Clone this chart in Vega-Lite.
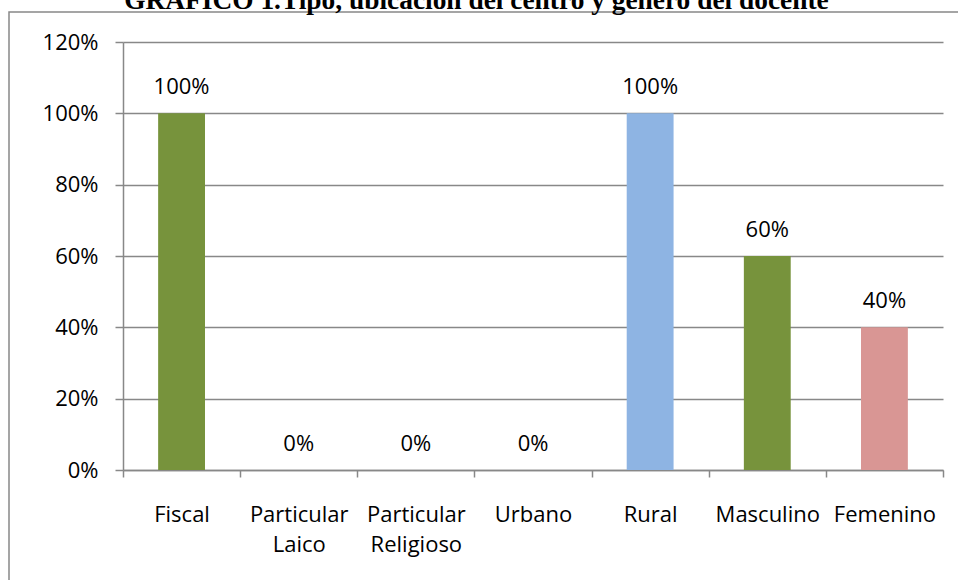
{
  "$schema": "https://vega.github.io/schema/vega-lite/v6.json",
  "autosize": "none",
  "padding": {"left": 9, "top": 12, "right": -13, "bottom": -13},
  "width": 962,
  "height": 581,
  "background": "white",
  "config": {
    "view": {"stroke": "#888888", "strokeWidth": 1.5},
    "font": "Open Sans"
  },
  "title": {
    "text": "GRÁFICO 1.Tipo, ubicación del centro y género del docente",
    "font": "Liberation Serif",
    "fontWeight": "bold",
    "fontSize": 27.4,
    "color": "black",
    "anchor": "middle",
    "frame": "group",
    "baseline": "alphabetic",
    "offset": 0,
    "dy": 24.5,
    "dx": -13.5
  },
  "data": {
    "values": [
      {"categoria": "Fiscal", "valor": 1.0},
      {"categoria": "Particular Laico", "valor": 0},
      {"categoria": "Particular Religioso", "valor": 0},
      {"categoria": "Urbano", "valor": 0},
      {"categoria": "Rural", "valor": 1.0},
      {"categoria": "Masculino", "valor": 0.6},
      {"categoria": "Femenino", "valor": 0.4}
    ]
  },
  "encoding": {
    "x": {
      "field": "categoria",
      "type": "nominal",
      "sort": null,
      "scale": {"range": [114, 934], "paddingInner": 0, "paddingOuter": 0},
      "axis": {
        "title": null,
        "orient": "bottom",
        "offset": -123,
        "labelAngle": 0,
        "labelFont": "Open Sans",
        "labelFontSize": 22,
        "labelColor": "black",
        "labelPadding": 27,
        "labelLineHeight": 30,
        "labelExpr": "indexof(datum.label, 'Particular') == 0 ? split(datum.label, ' ') : datum.label",
        "tickBand": "extent",
        "tickSize": 7,
        "tickColor": "#888888",
        "tickWidth": 1.5,
        "domainColor": "#888888",
        "domainWidth": 1.5,
        "grid": false,
        "labelOverlap": false,
        "labelBound": false,
        "labelFlush": false
      }
    },
    "y": {
      "field": "valor",
      "type": "quantitative",
      "scale": {"domain": [0, 1.2], "range": [458, 30], "nice": false},
      "axis": {
        "title": null,
        "orient": "left",
        "offset": -114,
        "values": [0, 0.2, 0.4, 0.6, 0.8, 1, 1.2],
        "format": ".0%",
        "labelFont": "Open Sans",
        "labelFontSize": 22,
        "labelColor": "black",
        "labelPadding": 17,
        "tickSize": 8,
        "tickColor": "#888888",
        "tickWidth": 1.5,
        "domainColor": "#888888",
        "domainWidth": 1.5,
        "grid": true,
        "gridColor": "#888888",
        "gridWidth": 1.5,
        "labelOverlap": false,
        "labelFlush": false
      }
    }
  },
  "layer": [
    {
      "mark": {"type": "bar", "width": {"band": 0.4}},
      "encoding": {
        "color": {
          "field": "categoria",
          "type": "nominal",
          "scale": {
            "domain": ["Fiscal", "Particular Laico", "Particular Religioso", "Urbano", "Rural", "Masculino", "Femenino"],
            "range": ["#77933C", "#77933C", "#77933C", "#8EB4E3", "#8EB4E3", "#77933C", "#D99694"]
          },
          "legend": null
        }
      }
    },
    {
      "mark": {"type": "text", "baseline": "alphabetic", "dy": -19, "fontSize": 22, "font": "Open Sans", "color": "black"},
      "encoding": {
        "text": {"field": "valor", "type": "quantitative", "format": ".0%"}
      }
    }
  ]
}
